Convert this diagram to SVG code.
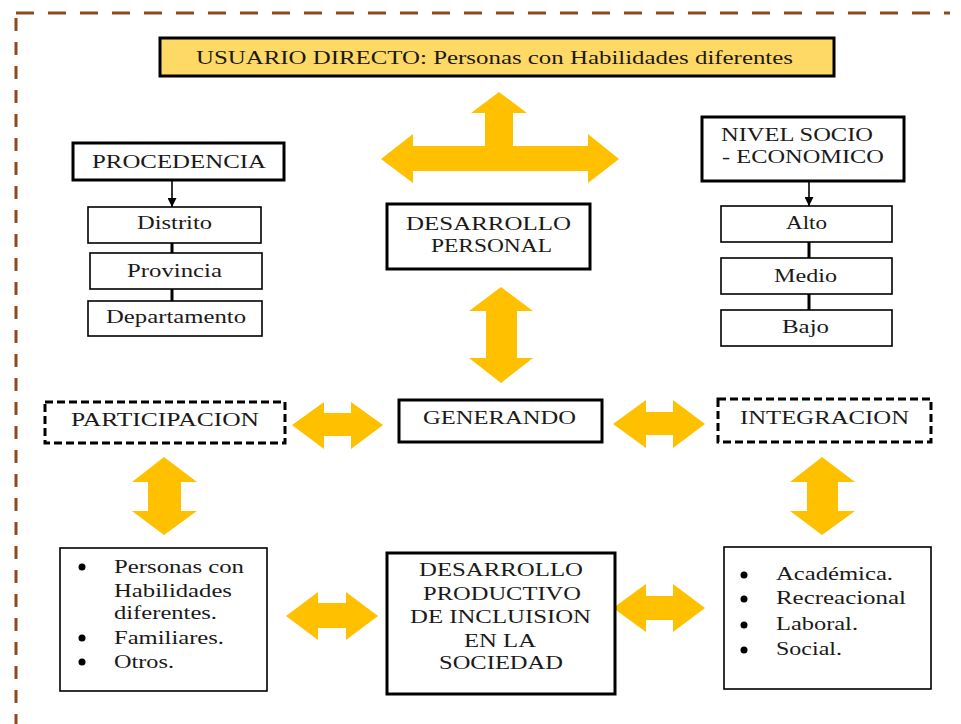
<svg xmlns="http://www.w3.org/2000/svg" width="961" height="724" viewBox="0 0 961 724">
<defs>
<style>
text{font-family:"Liberation Serif","Times New Roman",serif;font-size:19px;fill:#1a1a1a}
.c{text-anchor:middle}
.thick{fill:#fff;stroke:#000;stroke-width:3}
.thin{fill:#fff;stroke:#000;stroke-width:1.6}
.dash{fill:#fff;stroke:#000;stroke-width:3;stroke-dasharray:8 4}
.arr{fill:#FFC000;stroke:none}
.ln{stroke:#000;stroke-width:3;fill:none}
.sm{stroke:#000;stroke-width:1.6;fill:none}
.border{stroke:#8C4A1E;stroke-width:3;fill:none}
</style>
<marker id="ah" viewBox="0 0 10 10" refX="10" refY="5" markerWidth="10" markerHeight="9" markerUnits="userSpaceOnUse" orient="auto">
<path d="M0,0 L10,5 L0,10 z" fill="#000"/>
</marker>
</defs>
<rect width="961" height="724" fill="#fff"/>
<g id="border">
<line class="border" x1="16" y1="13" x2="950" y2="13" stroke-dasharray="18 14"/>
<line class="border" x1="16" y1="18" x2="16" y2="724" stroke-dasharray="13 11"/>
</g>
<g id="connectors">
<polygon class="arr" points="381,159 413,134 413,146 485,146 485,113 471,113 499,92 527,113 513,113 513,146 588,146 588,134 619,159 588,183 588,171 413,171 413,183"/>
<polygon class="arr" points="501,287 533,311 517,311 517,358 533,358 501,383 469,358 486,358 486,311 469,311"/>
<polygon class="arr" points="292,425 324,402 324,413 351,413 351,402 383,425 351,449 351,436 324,436 324,449"/>
<polygon class="arr" points="613,424 646,400 646,412 673,412 673,400 705,424 673,448 673,435 646,435 646,448"/>
<polygon class="arr" points="164,457 197,482 181,482 181,511 197,511 164,535 132,511 148,511 148,482 132,482"/>
<polygon class="arr" points="822,457 855,482 838,482 838,511 855,511 822,535 790,511 807,511 807,482 790,482"/>
<polygon class="arr" points="286,616 318,592 318,603 346,603 346,592 378,616 346,640 346,628 318,628 318,640"/>
<polygon class="arr" points="613,608 646,584 646,596 673,596 673,584 705,608 673,632 673,620 646,620 646,632"/>
<line class="sm" x1="172" y1="180" x2="172" y2="207" marker-end="url(#ah)"/>
<line class="ln" x1="172" y1="243" x2="172" y2="253"/>
<line class="ln" x1="172" y1="289" x2="172" y2="301"/>
<line class="sm" x1="809" y1="181" x2="809" y2="206" marker-end="url(#ah)"/>
<line class="ln" x1="809" y1="242" x2="809" y2="258"/>
<line class="ln" x1="809" y1="294" x2="809" y2="310"/>
</g>
<g id="usuario">
<rect x="160" y="38" width="674" height="38" fill="#FFD966" stroke="#000" stroke-width="3"/>
<text x="196" y="64" textLength="597" lengthAdjust="spacingAndGlyphs">USUARIO DIRECTO: Personas con Habilidades diferentes</text>
</g>
<g id="procedencia">
<rect class="thick" x="73" y="143" width="211" height="37"/>
<text x="92" y="168" textLength="174" lengthAdjust="spacingAndGlyphs">PROCEDENCIA</text>
</g>
<g id="distrito">
<rect class="thin" x="88" y="207" width="173" height="36"/>
<text x="137" y="229" textLength="75" lengthAdjust="spacingAndGlyphs">Distrito</text>
</g>
<g id="provincia">
<rect class="thin" x="90" y="253" width="172" height="36"/>
<text x="127" y="277" textLength="95" lengthAdjust="spacingAndGlyphs">Provincia</text>
</g>
<g id="departamento">
<rect class="thin" x="88" y="301" width="174" height="35"/>
<text x="106" y="323" textLength="140" lengthAdjust="spacingAndGlyphs">Departamento</text>
</g>
<g id="desarrollo-personal">
<rect class="thick" x="387" y="204" width="203" height="65"/>
<text x="406" y="230" textLength="165" lengthAdjust="spacingAndGlyphs">DESARROLLO</text>
<text x="431" y="252" textLength="121" lengthAdjust="spacingAndGlyphs">PERSONAL</text>
</g>
<g id="nivel-socio">
<rect class="thick" x="702" y="117" width="202" height="64"/>
<text x="721" y="141" textLength="152" lengthAdjust="spacingAndGlyphs">NIVEL SOCIO</text>
<text x="722" y="163" textLength="162" lengthAdjust="spacingAndGlyphs">- ECONOMICO</text>
</g>
<g id="alto">
<rect class="thin" x="721" y="206" width="171" height="36"/>
<text x="786" y="229" textLength="41" lengthAdjust="spacingAndGlyphs">Alto</text>
</g>
<g id="medio">
<rect class="thin" x="721" y="258" width="171" height="36"/>
<text x="774" y="282" textLength="63" lengthAdjust="spacingAndGlyphs">Medio</text>
</g>
<g id="bajo">
<rect class="thin" x="721" y="310" width="171" height="36"/>
<text x="782" y="333" textLength="47" lengthAdjust="spacingAndGlyphs">Bajo</text>
</g>
<g id="participacion">
<rect class="dash" x="45" y="402" width="240" height="41"/>
<text x="71" y="426" textLength="188" lengthAdjust="spacingAndGlyphs">PARTICIPACION</text>
</g>
<g id="generando">
<rect class="thick" x="399" y="400" width="203" height="42"/>
<text x="423" y="424" textLength="153" lengthAdjust="spacingAndGlyphs">GENERANDO</text>
</g>
<g id="integracion">
<rect class="dash" x="718" y="399" width="213" height="43"/>
<text x="740" y="424" textLength="169" lengthAdjust="spacingAndGlyphs">INTEGRACION</text>
</g>
<g id="lista-participacion">
<rect class="thin" x="60" y="548" width="207" height="143"/>
<circle cx="82" cy="567" r="3.5" fill="#000"/>
<circle cx="82" cy="638" r="3.5" fill="#000"/>
<circle cx="82" cy="662" r="3.5" fill="#000"/>
<text x="114" y="573" textLength="130" lengthAdjust="spacingAndGlyphs">Personas con</text>
<text x="114" y="597" textLength="118" lengthAdjust="spacingAndGlyphs">Habilidades</text>
<text x="114" y="619" textLength="103" lengthAdjust="spacingAndGlyphs">diferentes.</text>
<text x="114" y="644" textLength="110" lengthAdjust="spacingAndGlyphs">Familiares.</text>
<text x="114" y="668" textLength="60" lengthAdjust="spacingAndGlyphs">Otros.</text>
</g>
<g id="desarrollo-productivo">
<rect class="thick" x="387" y="553" width="228" height="141"/>
<text x="419" y="576" textLength="164" lengthAdjust="spacingAndGlyphs">DESARROLLO</text>
<text x="423" y="600" textLength="158" lengthAdjust="spacingAndGlyphs">PRODUCTIVO</text>
<text x="410" y="623" textLength="181" lengthAdjust="spacingAndGlyphs">DE INCLUISION</text>
<text x="464" y="647" textLength="72" lengthAdjust="spacingAndGlyphs">EN LA</text>
<text x="439" y="669" textLength="124" lengthAdjust="spacingAndGlyphs">SOCIEDAD</text>
</g>
<g id="lista-integracion">
<rect class="thin" x="724" y="547" width="207" height="142"/>
<circle cx="744" cy="575" r="3.5" fill="#000"/>
<circle cx="744" cy="599" r="3.5" fill="#000"/>
<circle cx="744" cy="625" r="3.5" fill="#000"/>
<circle cx="744" cy="650" r="3.5" fill="#000"/>
<text x="776" y="580" textLength="117" lengthAdjust="spacingAndGlyphs">Académica.</text>
<text x="776" y="604" textLength="130" lengthAdjust="spacingAndGlyphs">Recreacional</text>
<text x="776" y="630" textLength="82" lengthAdjust="spacingAndGlyphs">Laboral.</text>
<text x="776" y="655" textLength="66" lengthAdjust="spacingAndGlyphs">Social.</text>
</g>
</svg>
